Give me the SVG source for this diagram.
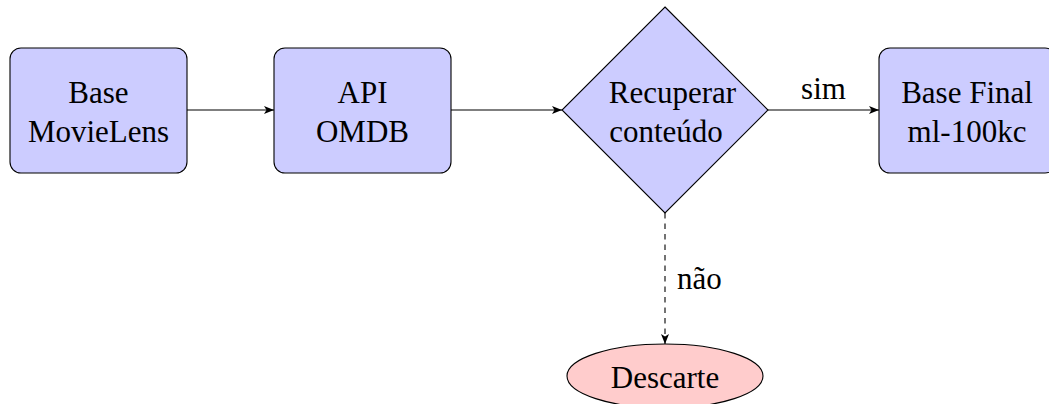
<svg xmlns="http://www.w3.org/2000/svg" width="1049" height="404" viewBox="0 0 1049 404">
<defs>
<marker id="arr" viewBox="0 0 10 8" refX="10" refY="4" markerWidth="10" markerHeight="8" markerUnits="userSpaceOnUse" orient="auto">
<path d="M0,0 L10,4 L0,8 L2.5,4 Z" fill="#000"/>
</marker>
</defs>
<style>
.box{fill:#ccccff;stroke:#000;stroke-width:1.1}
.end{fill:#ffcccc;stroke:#000;stroke-width:1.1}
.t{font-family:"Liberation Serif","Times New Roman",serif;font-size:31px;fill:#000;text-anchor:middle}
.e{stroke:#000;stroke-width:1.1;fill:none;marker-end:url(#arr)}
</style>
<rect width="1049" height="404" fill="#fff"/>
<g id="connectors">
<line class="e" x1="187" y1="110" x2="274" y2="110"/>
<line class="e" x1="451" y1="110" x2="562" y2="110"/>
<line class="e" x1="768" y1="110" x2="879" y2="110"/>
<line class="e" x1="665" y1="213" x2="665" y2="344" stroke-dasharray="5.5,5"/>
<text class="t" x="823.5" y="99">sim</text>
<text class="t" x="699.5" y="289">não</text>
</g>
<g id="base">
<rect class="box" x="10" y="48" width="177" height="125" rx="11"/>
<text class="t" x="98.5" y="103">Base</text>
<text class="t" x="98.5" y="142">MovieLens</text>
</g>
<g id="api">
<rect class="box" x="274" y="48" width="177" height="125" rx="11"/>
<text class="t" x="362.5" y="103">API</text>
<text class="t" x="362.5" y="142">OMDB</text>
</g>
<g id="recuperar">
<polygon class="box" points="665,7 768,110 665,213 562,110"/>
<text class="t" x="672.5" y="103">Recuperar</text>
<text class="t" x="666" y="142">conteúdo</text>
</g>
<g id="final">
<rect class="box" x="879" y="48" width="177" height="125" rx="11"/>
<text class="t" x="967" y="103">Base Final</text>
<text class="t" x="967" y="142">ml-100kc</text>
</g>
<g id="descarte">
<ellipse class="end" cx="665" cy="376" rx="98" ry="32"/>
<text class="t" x="665" y="388">Descarte</text>
</g>
</svg>
